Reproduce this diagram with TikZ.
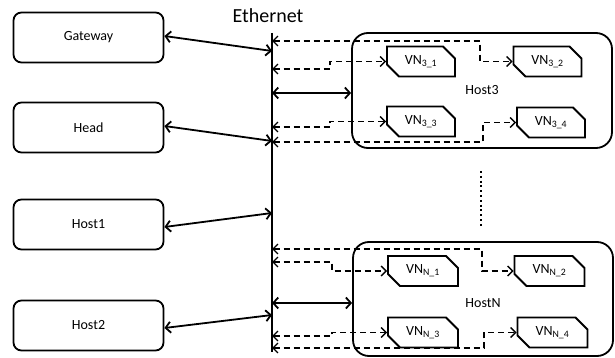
\documentclass[tikz,border=0pt]{standalone}
\usepackage{fontspec}
\setmainfont{Carlito}
\usetikzlibrary{arrows.meta,shapes.misc}
\begin{document}
\begin{tikzpicture}[x=1pt,y=-1pt,
  bigbox/.style={draw,line width=1.8pt,rounded corners=8pt,minimum width=150pt,minimum height=50pt,font=\fontsize{14}{16}\selectfont},
  hostbox/.style={draw,line width=1.8pt,rounded corners=16pt,minimum width=260pt,minimum height=115pt,font=\fontsize{14}{16}\selectfont},
  vnbox/.style={draw,line width=1.8pt,chamfered rectangle,chamfered rectangle corners={north east,south west},chamfered rectangle xsep=6pt,chamfered rectangle ysep=6pt,minimum width=68pt,minimum height=30pt,inner sep=1pt,font=\fontsize{14}{16}\selectfont},
  solidarrow/.style={line width=1.8pt,{Straight Barb[length=5pt,width=11pt]}-{Straight Barb[length=5pt,width=11pt]}},
  dasharrow/.style={line width=1.4pt,dash pattern=on 6pt off 4pt,{Straight Barb[length=5pt,width=10pt]}-{Straight Barb[length=5pt,width=10pt]}}
]
\useasboundingbox (0,0) rectangle (615,358);
\fill[white] (0,0) rectangle (615,358);

% left boxes
\node[bigbox] (gw) at (88.5,37.5) {Gateway};
\node[bigbox] (head) at (88.5,127.5) {Head};
\node[bigbox] (host1) at (88.5,224.5) {Host1};
\node[bigbox] (host2) at (88.5,325.5) {Host2};

% ethernet
\coordinate (etop) at (272,33);
\coordinate (ebot) at (272,352);
\draw[line width=2pt] (etop) -- (ebot);
\node[font=\fontsize{20}{22}\selectfont] (ethl) at (268,16) {Ethernet};

% host boxes
\node[hostbox] (h3) at (482,90.5) {Host3};
\node[hostbox,minimum height=114pt] (hn) at (483,299) {};
\node[font=\fontsize{14}{16}\selectfont] (hnl) at (483,303) {HostN};

% VN boxes host3
\node[vnbox] (v31) at (421,61.5) {VN\textsubscript{3\_1}};
\node[vnbox] (v32) at (547.5,61.5) {VN\textsubscript{3\_2}};
\node[vnbox] (v33) at (421,121.5) {VN\textsubscript{3\_3}};
\node[vnbox] (v34) at (551,122.5) {VN\textsubscript{3\_4}};

% VN boxes hostN
\node[vnbox,minimum width=70pt] (vn1) at (423,271) {VN\textsubscript{N\_1}};
\node[vnbox,minimum width=70pt] (vn2) at (549.5,271) {VN\textsubscript{N\_2}};
\node[vnbox,minimum width=70pt] (vn3) at (423,332.5) {VN\textsubscript{N\_3}};
\node[vnbox,minimum width=70pt] (vn4) at (552.5,332.5) {VN\textsubscript{N\_4}};

% ethernet attachment points
\coordinate (eg) at (272,51);
\coordinate (eh) at (272,141);
\coordinate (e1) at (272,213);
\coordinate (e2) at (272,315);
\coordinate (a1) at (272,41);
\coordinate (a2) at (272,69);
\coordinate (a3) at (272,93);
\coordinate (a4) at (272,127);
\coordinate (a5) at (272,142);
\coordinate (b1) at (272,249);
\coordinate (b2) at (272,262);
\coordinate (b3) at (272,303);
\coordinate (b4) at (272,336);
\coordinate (b5) at (272,348);

% left connectors
\draw[solidarrow] ([yshift=1.5pt]gw.east) -- (eg);
\draw[solidarrow] ([yshift=1.5pt]head.east) -- (eh);
\draw[solidarrow] ([yshift=-2.5pt]host1.east) -- (e1);
\draw[solidarrow] ([yshift=-2.5pt]host2.east) -- (e2);

% host3 connectors
\draw[dasharrow] (a1) -- (480,41) |- (v32.west);
\draw[dasharrow] (a2) -- (330,69) |- (v31.west);
\draw[solidarrow] (a3) -- (a3 -| h3.west);
\draw[dasharrow] (a4) -- (330,127) |- (v33.west);
\draw[dasharrow] (a5) -- (483,142) |- (v34.west);

% hostN connectors
\draw[dasharrow] (b1) -- (482,249) |- (vn2.west);
\draw[dasharrow] (b2) -- (332,262) |- (vn1.west);
\draw[solidarrow] (b3) -- (b3 -| hn.west);
\draw[dasharrow] (b4) -- (332,336) |- (vn3.west);
\draw[dasharrow] (b5) -- (484,348) |- (vn4.west);

% dotted
\draw[line width=2pt,dash pattern=on 2pt off 2.8pt] (481,171) -- (481,227);
\end{tikzpicture}
\end{document}
